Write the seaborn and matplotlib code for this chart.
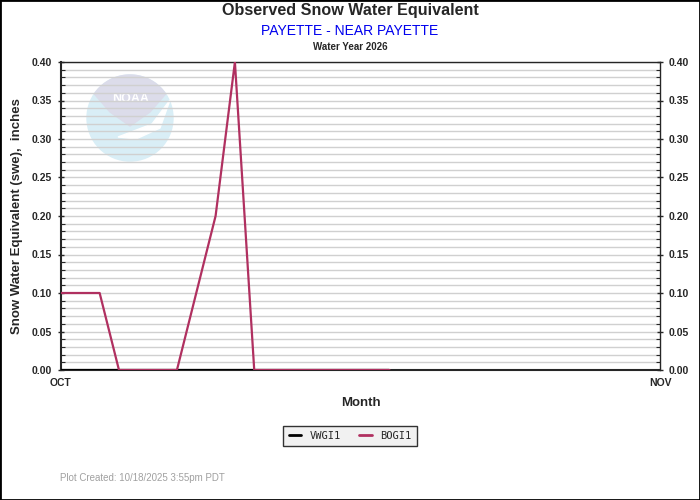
import numpy as np
import pandas as pd
import seaborn as sns
import matplotlib.pyplot as plt
from matplotlib.patches import Ellipse, Polygon, Rectangle

# data (day 0 = Oct 1)
days = list(range(18))
vwgi1 = [0.0] * 18
bogi1 = [0.10, 0.10, 0.10, 0.0, 0.0, 0.0, 0.0, 0.10, 0.20, 0.40,
         0.0, 0.0, 0.0, 0.0, 0.0, 0.0, 0.0, 0.0]
stations = ['VWGI1', 'BOGI1']
colors = ['black', '#B03060']
month_ticks = [0, 31]
month_labels = ['OCT', 'NOV']

df = pd.DataFrame({'day': days * 2,
                   'swe': vwgi1 + bogi1,
                   'station': ['VWGI1'] * 18 + ['BOGI1'] * 18})

sns.set_style('white')
plt.rcParams['font.family'] = ['Liberation Sans', 'DejaVu Sans']

fig = plt.figure(figsize=(7, 5), dpi=100)
ax = fig.add_axes([61/700, 130/500, 599/700, 308/500])


# faint NOAA logo, drawn in figure pixel coords (y from top)
def px(x, y):
    return ((x - 61) / 599, (370 - y) / 308)


logo_c = px(130, 118)
ax.add_patch(Ellipse(logo_c, 86/599, 86/308, transform=ax.transAxes,
                     color='#d9eef6', zorder=0))
theta = np.linspace(np.radians(146), np.radians(34), 30)
cap = [px(130 + 43*np.cos(t), 118 - 43*np.sin(t)) for t in theta]
cap += [px(150, 112), px(130, 126), px(110, 112)]
ax.add_patch(Polygon(cap, closed=True, transform=ax.transAxes,
                     color='#dcdcea', zorder=0))
bird = [px(170, 100), px(152, 124), px(118, 137), px(136, 139), px(160, 128)]
ax.add_patch(Polygon(bird, closed=True, transform=ax.transAxes,
                     color='white', zorder=0))
ax.text(*px(131, 99), 'NOAA', transform=ax.transAxes, color='white',
        fontsize=9, fontweight='bold', ha='center', va='center', zorder=0)

ax.yaxis.set_major_locator(plt.MultipleLocator(0.05))
ax.yaxis.set_minor_locator(plt.MultipleLocator(0.01))
ax.grid(True, which='both', axis='y', color='#d0d0d0', linewidth=1, zorder=1)

sns.lineplot(data=df, x='day', y='swe', hue='station', hue_order=stations,
             palette=colors, linewidth=1.6, ax=ax, legend=False, zorder=3)

ax.set_xlim(0, 31)
ax.set_ylim(0, 0.40)
ax.set_xticks(month_ticks)
ax.set_xticklabels(month_labels, fontsize=7.5, fontweight='bold')
ax.tick_params(axis='x', length=0, pad=6)
ax.tick_params(axis='y', which='major', left=True, right=True, labelright=True,
               length=5, width=1, labelsize=7.5, direction='inout', pad=4)
ax.tick_params(axis='y', which='minor', left=True, right=True,
               length=3, width=0.8, direction='in')
ax.yaxis.set_major_formatter(plt.FormatStrFormatter('%.2f'))
for lab in ax.get_yticklabels():
    lab.set_fontweight('bold')
for side in ['left', 'bottom']:
    ax.spines[side].set_linewidth(1.5)
for side in ['top', 'right']:
    ax.spines[side].set_linewidth(1)
ax.set_xlabel('Month', fontsize=9.5, fontweight='bold', labelpad=6)
ax.set_ylabel('Snow Water Equivalent (swe),  inches', fontsize=9.5, fontweight='bold', labelpad=6)

fig.text(0.5, 0.978, 'Observed Snow Water Equivalent', ha='center', va='center',
         fontsize=11.6, fontweight='bold')
fig.text(0.5, 0.938, 'PAYETTE - NEAR PAYETTE', ha='center', va='center',
         fontsize=10, color='#0000ee')
fig.text(0.5, 0.907, 'Water Year 2026', ha='center', va='center',
         fontsize=7, fontweight='bold')
fig.text(60/700, 1 - 478/500, 'Plot Created: 10/18/2025 3:55pm PDT', ha='left',
         va='center', fontsize=7, color='#a0a0a0')

handles = [plt.Line2D([], [], color=c, linewidth=2) for c in colors]
leg = fig.legend(handles, stations, loc='center', bbox_to_anchor=(0.5, 1 - 436/500),
                 ncol=2, frameon=True, fancybox=False,
                 handlelength=1.2, columnspacing=1.8, borderpad=0.5,
                 prop={'family': 'DejaVu Sans Mono', 'size': 7.5})
leg.get_frame().set_facecolor('#eeeeee')
leg.get_frame().set_edgecolor('black')
leg.get_frame().set_linewidth(1)

fig.patches.append(Rectangle((0, 0), 1, 1, transform=fig.transFigure, fill=False,
                             edgecolor='black', linewidth=2))

fig.savefig('out.png', dpi=100)
